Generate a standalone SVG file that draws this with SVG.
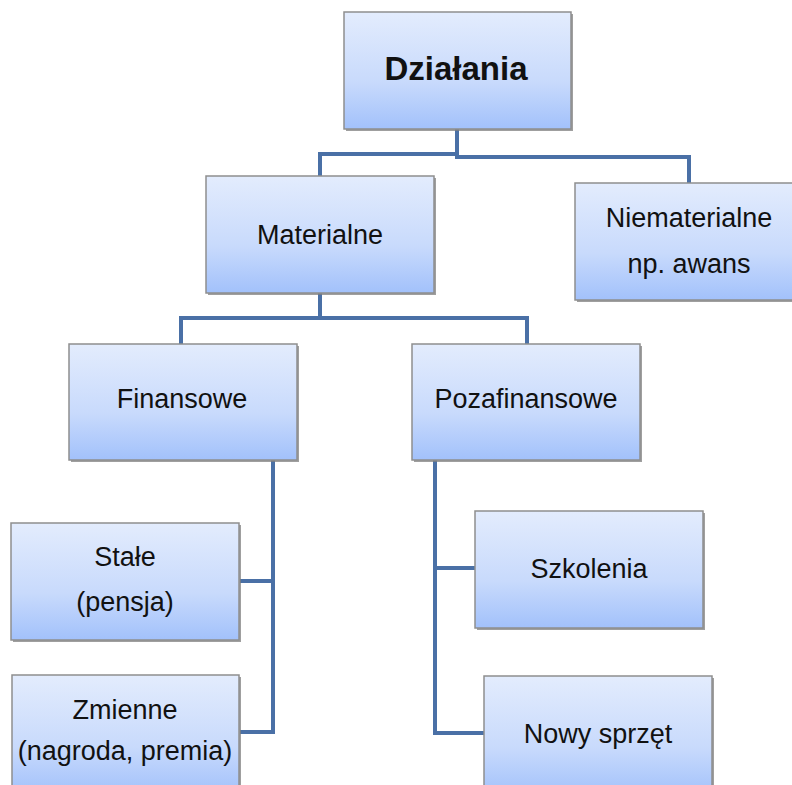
<svg xmlns="http://www.w3.org/2000/svg" width="792" height="785" viewBox="0 0 792 785">
<defs>
<linearGradient id="g" x1="0" y1="0" x2="0" y2="1">
<stop offset="0" stop-color="#e3ecfd"/>
<stop offset="0.6" stop-color="#c8dafc"/>
<stop offset="1" stop-color="#a2c1fb"/>
</linearGradient>
<style>
.box{fill:url(#g);stroke:#8e8e8e;stroke-width:1.5}
.sh{fill:#7f7f7f;opacity:0.75}
.t{font-family:"Liberation Sans",Arial,sans-serif;font-size:27px;fill:#111;text-anchor:middle}
.b{font-weight:bold;font-size:33px}
.c{fill:none;stroke:#4a70a6;stroke-width:4;stroke-linejoin:miter}
</style>
</defs>
<rect width="792" height="785" fill="#fff"/>
<g id="connectors">
<path class="c" d="M457 129 V154 H320 V177"/>
<path class="c" d="M457 154 V157 H689 V183"/>
<path class="c" d="M320 293 V318 H181 V344"/>
<path class="c" d="M320 318 H527 V344"/>
<path class="c" d="M273 460 V732 H240"/>
<path class="c" d="M273 581 H240"/>
<path class="c" d="M435 460 V733 H484"/>
<path class="c" d="M435 568 H475"/>
</g>
<g id="dzialania">
<rect class="sh" x="346" y="14" width="227" height="117"/>
<rect class="box" x="344" y="12" width="227" height="117"/>
<text class="t b" x="456" y="80">Działania</text>
</g>
<g id="materialne">
<rect class="sh" x="208" y="178" width="228" height="117"/>
<rect class="box" x="206" y="176" width="228" height="117"/>
<text class="t" x="320" y="244">Materialne</text>
</g>
<g id="niematerialne">
<rect class="sh" x="577" y="185" width="220" height="117"/>
<rect class="box" x="575" y="183" width="222" height="117"/>
<text class="t" x="689" y="227">Niematerialne</text>
<text class="t" x="689" y="273">np. awans</text>
</g>
<g id="finansowe">
<rect class="sh" x="71" y="346" width="228" height="116"/>
<rect class="box" x="69" y="344" width="228" height="116"/>
<text class="t" x="182" y="408">Finansowe</text>
</g>
<g id="pozafinansowe">
<rect class="sh" x="414" y="346" width="228" height="116"/>
<rect class="box" x="412" y="344" width="228" height="116"/>
<text class="t" x="526" y="408">Pozafinansowe</text>
</g>
<g id="stale">
<rect class="sh" x="13" y="525" width="228" height="117"/>
<rect class="box" x="11" y="523" width="228" height="117"/>
<text class="t" x="125" y="566">Stałe</text>
<text class="t" x="125" y="611">(pensja)</text>
</g>
<g id="zmienne">
<rect class="sh" x="14" y="677" width="227" height="120"/>
<rect class="box" x="12" y="675" width="227" height="120"/>
<text class="t" x="125" y="719">Zmienne</text>
<text class="t" x="125" y="760">(nagroda, premia)</text>
</g>
<g id="szkolenia">
<rect class="sh" x="477" y="513" width="228" height="117"/>
<rect class="box" x="475" y="511" width="228" height="117"/>
<text class="t" x="589" y="578">Szkolenia</text>
</g>
<g id="nowy">
<rect class="sh" x="486" y="678" width="228" height="120"/>
<rect class="box" x="484" y="676" width="228" height="120"/>
<text class="t" x="598" y="743">Nowy sprzęt</text>
</g>
</svg>
